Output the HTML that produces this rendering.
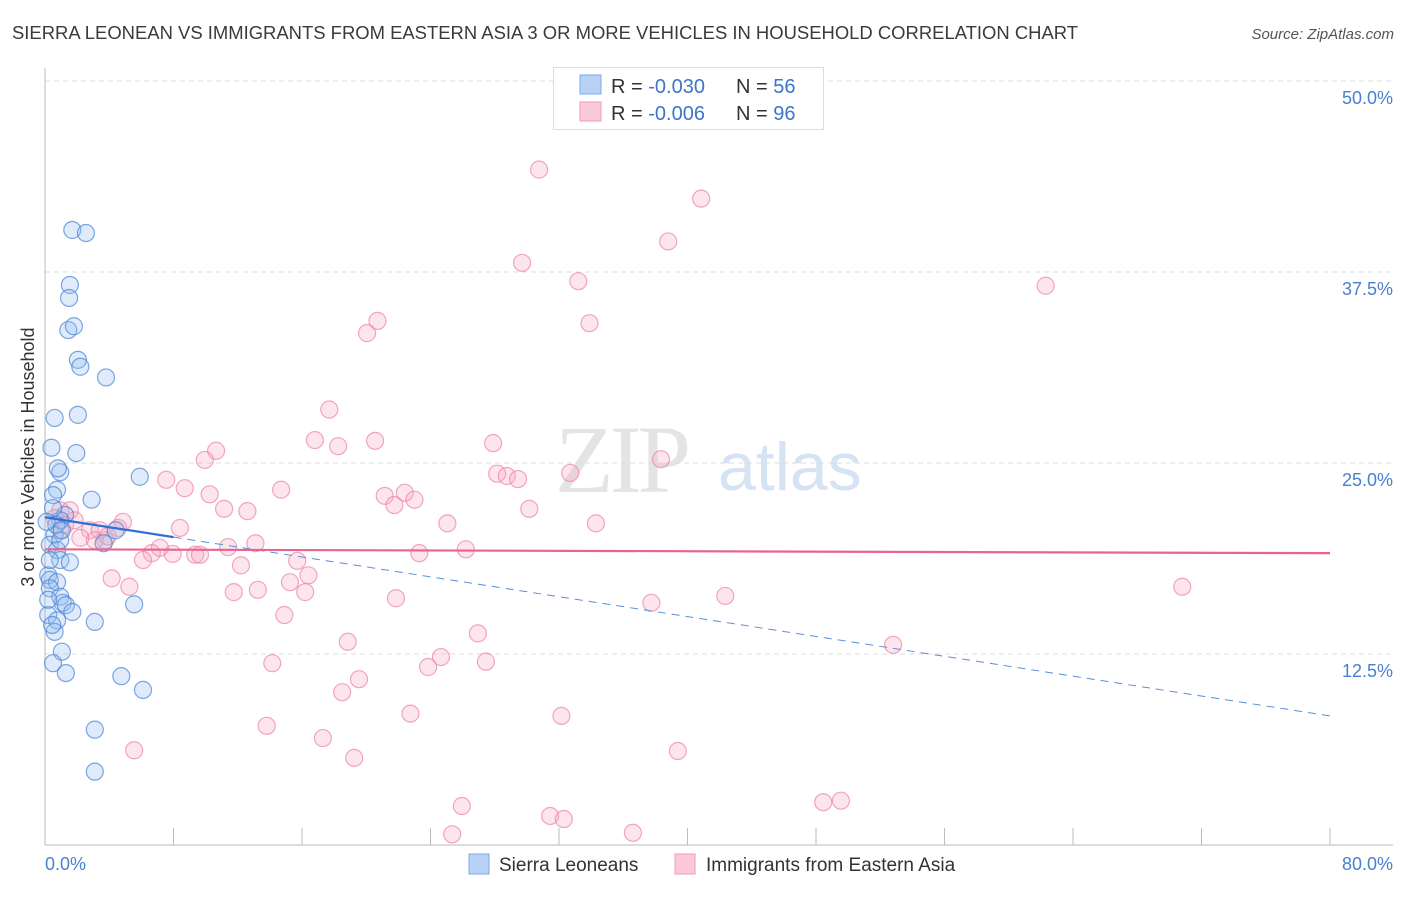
<!DOCTYPE html>
<html><head><meta charset="utf-8"><style>
body{margin:0;background:#fff;width:1406px;height:892px;overflow:hidden;font-family:"Liberation Sans",sans-serif}
</style></head><body>
<svg id="chart" width="1406" height="892" xmlns="http://www.w3.org/2000/svg" font-family="Liberation Sans, sans-serif">
<text x="12" y="39" font-size="18" fill="#3a3a3a" textLength="1066" lengthAdjust="spacingAndGlyphs">SIERRA LEONEAN VS IMMIGRANTS FROM EASTERN ASIA 3 OR MORE VEHICLES IN HOUSEHOLD CORRELATION CHART</text>
<text x="1394" y="39" font-size="15" fill="#555" font-style="italic" text-anchor="end">Source: ZipAtlas.com</text>
<text x="555" y="492" font-size="96" fill="#e4e4e4" font-family="Liberation Serif, serif" letter-spacing="-4">ZIP</text>
<text x="718" y="490" font-size="68" fill="#d6e3f3">atlas</text>
<text transform="translate(34,457) rotate(-90)" font-size="18" fill="#333" text-anchor="middle">3 or more Vehicles in Household</text>
<g id="grid"></g><g id="axes"></g><g id="pts"></g><g id="trend"></g>
<g>
<rect x="553.5" y="67.5" width="270" height="62" fill="#fff" stroke="#ddd"/>
<rect x="580" y="75" width="21" height="19" fill="#b7d2f4" stroke="#7fa9e6"/>
<rect x="580" y="102" width="21" height="19" fill="#fcc9d8" stroke="#f19bb5"/>
<text x="611" y="93" font-size="20" fill="#333">R = <tspan fill="#3f74cc">-0.030</tspan></text>
<text x="736" y="93" font-size="20" fill="#333">N = <tspan fill="#3f74cc">56</tspan></text>
<text x="611" y="120" font-size="20" fill="#333">R = <tspan fill="#3f74cc">-0.006</tspan></text>
<text x="736" y="120" font-size="20" fill="#333">N = <tspan fill="#3f74cc">96</tspan></text>
</g>
<g>
<rect x="469" y="854" width="20" height="20" fill="#b7d2f4" stroke="#7fa9e6"/>
<text x="499" y="871" font-size="19" fill="#333">Sierra Leoneans</text>
<rect x="675" y="854" width="20" height="20" fill="#fcc9d8" stroke="#f19bb5"/>
<text x="706" y="871" font-size="19" fill="#333">Immigrants from Eastern Asia</text>
</g>
</svg>
<script>
const yTicks=[12.5,25,37.5,50];
const yTickLabels=["12.5%","25.0%","37.5%","50.0%"];
const xTickLabels=["0.0%","80.0%"];
const blueX=[1.7,2.55,1.55,1.5,1.45,1.8,2.05,2.2,3.8,0.6,2.05,0.4,1.95,0.95,5.9,0.75,0.5,2.9,1.25,0.95,4.4,0.6,0.3,3.65,0.75,0.95,1.55,0.2,0.3,0.75,0.3,0.95,1.1,1.3,1.7,5.55,0.2,0.75,3.1,0.6,1.05,0.5,1.3,4.75,6.1,3.1,3.1,0.3,0.5,0.7,0.1,0.8,0.95,0.2,0.45,1.05];
const blueY=[40.25,40.05,36.65,35.8,33.7,33.95,31.75,31.3,30.6,27.95,28.15,26.0,25.65,24.4,24.1,23.25,22.9,22.6,21.6,21.25,20.6,20.3,19.65,19.75,19.3,18.65,18.5,17.65,17.35,17.2,16.8,16.25,15.85,15.7,15.25,15.75,15.05,14.7,14.6,13.95,12.65,11.9,11.25,11.05,10.15,7.55,4.8,18.65,22.05,20.95,21.15,24.65,19.95,16.05,14.4,20.6];
const pinkX=[30.76,40.85,38.8,29.7,33.2,62.3,33.9,20.7,20.05,17.7,16.8,18.25,20.55,27.9,10.65,9.95,38.35,28.15,28.75,29.45,32.7,8.7,14.7,7.55,21.15,22.4,23.0,10.25,21.75,30.15,11.15,12.6,25.05,34.3,8.4,4.85,4.55,2.8,0.95,1.25,3.75,3.4,13.1,11.4,7.15,6.65,6.1,26.2,23.3,9.35,9.65,7.95,15.7,12.2,16.4,4.15,15.25,5.25,11.75,13.25,16.2,21.85,37.75,42.35,70.8,14.9,26.95,18.85,52.8,24.65,14.15,27.45,23.85,19.55,18.5,22.75,32.15,13.8,17.3,5.55,39.4,19.25,25.95,48.45,49.55,31.45,32.3,36.6,25.35,1.55,0.6,3.1,1.85,3.9,0.95,2.2];
const pinkY=[44.2,42.3,39.5,38.1,36.9,36.6,34.15,34.3,33.5,28.5,26.5,26.1,26.45,26.3,25.8,25.2,25.25,24.3,24.15,23.95,24.35,23.35,23.25,23.9,22.85,23.05,22.6,22.95,22.25,22.0,22.0,21.85,21.05,21.05,20.75,21.15,20.75,20.6,21.9,20.95,19.95,20.6,19.75,19.5,19.45,19.1,18.65,19.35,19.1,19.0,19.0,19.05,18.6,18.3,17.65,17.45,17.2,16.9,16.55,16.7,16.55,16.15,15.85,16.3,16.9,15.05,13.85,13.3,13.1,12.3,11.9,12.0,11.65,10.85,10.0,8.6,8.45,7.8,7.0,6.2,6.15,5.7,2.55,2.8,2.9,1.9,1.7,0.8,0.7,21.9,21.4,19.95,21.25,20.2,20.6,20.1];
const blueTrend=[21.45,8.45];
const pinkTrend=[19.35,19.1];
const NS="http://www.w3.org/2000/svg";
const X=v=>45+v*(1285/80);
const Y=v=>845-v*15.28;
function mk(tag,attrs,parent){const e=document.createElementNS(NS,tag);for(const k in attrs)e.setAttribute(k,attrs[k]);document.getElementById(parent).appendChild(e);return e;}
yTicks.forEach((t,i)=>{
 const g=mk('line',{x1:45,x2:1393,y1:Y(t),y2:Y(t),stroke:'#dcdcdc','stroke-dasharray':'5,4'},'grid');
 
 
 const tx=mk('text',{x:1393,y:Y(t)+23,'font-size':18,fill:'#4a7fd0','text-anchor':'end'},'axes');
 tx.textContent=yTickLabels[i];
 
 
});
const ax=mk('line',{x1:45,x2:1393,y1:845,y2:845,stroke:'#bbb'},'axes');


const ay=mk('line',{x1:45,x2:45,y1:68,y2:845,stroke:'#bbb'},'axes');


for(let i=0;i<=10;i++){
 const t=mk('line',{x1:X(i*8),x2:X(i*8),y1:828,y2:845,stroke:'#bbb'},'axes');
 
 
}
[[0,'start',45],[80,'end',1393]].forEach((d,i)=>{
 const t=mk('text',{x:d[2],y:870,'font-size':18,fill:'#4a7fd0','text-anchor':d[1]},'axes');
 t.textContent=xTickLabels[i];
 
 
});
pinkX.forEach((x,i)=>{
 const c=mk('circle',{cx:X(x),cy:Y(pinkY[i]),r:8.5,fill:'rgba(248,170,195,0.3)',stroke:'rgba(236,130,165,0.7)','stroke-width':1.2},'pts');
 
 
});
blueX.forEach((x,i)=>{
 const c=mk('circle',{cx:X(x),cy:Y(blueY[i]),r:8.5,fill:'rgba(150,190,240,0.3)',stroke:'rgba(70,130,215,0.7)','stroke-width':1.2},'pts');
 
 
});
const bAt=v=>blueTrend[0]+(blueTrend[1]-blueTrend[0])*v/80;
const b1=mk('line',{x1:X(0),y1:Y(bAt(0)),x2:X(8),y2:Y(bAt(8)),stroke:'#2f6fd6','stroke-width':2.2},'trend');


const b2=mk('line',{x1:X(8),y1:Y(bAt(8)),x2:X(80),y2:Y(bAt(80)),stroke:'#5a8fdb','stroke-width':1,'stroke-dasharray':'8,6'},'trend');


const p1=mk('line',{x1:X(0),y1:Y(pinkTrend[0]),x2:X(80),y2:Y(pinkTrend[1]),stroke:'#e8638f','stroke-width':2.2},'trend');


</script>
</body></html>
